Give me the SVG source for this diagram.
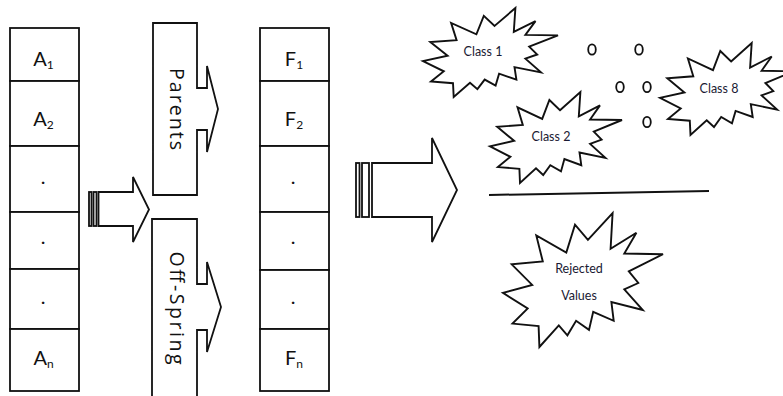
<svg xmlns="http://www.w3.org/2000/svg" width="783" height="396" viewBox="0 0 783 396">
  <style>
    .cell { fill: #fff; stroke: #111; stroke-width: 1.8; }
    .shape { fill: #fff; stroke: #111; stroke-width: 1.8; stroke-linejoin: miter; }
    .star { fill: #fff; stroke: #111; stroke-width: 1.9; stroke-linejoin: miter; }
    .lbl { font-family: Lato, "Liberation Sans", sans-serif; font-size: 20px; fill: #111; text-anchor: middle; }
    .sub { font-size: 12px; }
    .vert { font-family: "Open Sans", "Liberation Sans", sans-serif; font-size: 19.5px; fill: #111; text-anchor: middle; }
    .cls { font-family: Lato, "Liberation Sans", sans-serif; font-size: 12.5px; fill: #1a1a33; text-anchor: middle; }
    .dot { fill: #fff; stroke: #111; stroke-width: 1.8; }
  </style>
  <rect width="783" height="396" fill="#fff"/>

  <!-- input column A -->
  <g id="a1"><rect class="cell" x="10" y="28" width="69" height="53"/><text class="lbl" x="43.5" y="66">A<tspan class="sub" dy="3">1</tspan></text></g>
  <g id="a2"><rect class="cell" x="10" y="81" width="69" height="65"/><text class="lbl" x="43.5" y="126">A<tspan class="sub" dy="3">2</tspan></text></g>
  <g id="a3"><rect class="cell" x="10" y="146" width="69" height="66"/><text class="lbl" x="43" y="184">.</text></g>
  <g id="a4"><rect class="cell" x="10" y="212" width="69" height="57"/><text class="lbl" x="43" y="244">.</text></g>
  <g id="a5"><rect class="cell" x="10" y="269" width="69" height="60"/><text class="lbl" x="43" y="304">.</text></g>
  <g id="an"><rect class="cell" x="10" y="329" width="69" height="62"/><text class="lbl" x="43.5" y="365">A<tspan class="sub" dy="3">n</tspan></text></g>

  <!-- output column F -->
  <g id="f1"><rect class="cell" x="260" y="28" width="69" height="53"/><text class="lbl" x="294" y="66">F<tspan class="sub" dy="3">1</tspan></text></g>
  <g id="f2"><rect class="cell" x="260" y="81" width="69" height="65"/><text class="lbl" x="294" y="126">F<tspan class="sub" dy="3">2</tspan></text></g>
  <g id="f3"><rect class="cell" x="260" y="146" width="69" height="66"/><text class="lbl" x="293" y="184">.</text></g>
  <g id="f4"><rect class="cell" x="260" y="212" width="69" height="58"/><text class="lbl" x="293" y="244">.</text></g>
  <g id="f5"><rect class="cell" x="260" y="270" width="69" height="59"/><text class="lbl" x="293" y="304">.</text></g>
  <g id="fn"><rect class="cell" x="260" y="329" width="69" height="62"/><text class="lbl" x="294" y="365">F<tspan class="sub" dy="3">n</tspan></text></g>

  <!-- callout arrows -->
  <g id="parents">
    <path class="shape" d="M153,23 H197 V88 H207 V66 L218,109 L207,152 V130 H197 V195 H153 Z"/>
    <text class="vert" transform="translate(170,109) rotate(90)" textLength="82" lengthAdjust="spacing">Parents</text>
  </g>
  <g id="offspring">
    <path class="shape" d="M152,219 H197 V284 H207 V262 L221,307 L207,352 V330 H197 V399 H152 Z"/>
    <text class="vert" transform="translate(170,308) rotate(90)" textLength="113" lengthAdjust="spacing">Off-Spring</text>
  </g>

  <!-- connectors: striped block arrows and divider -->
  <g id="connectors">
    <g id="arrow-small">
      <rect class="shape" x="89" y="192" width="2.5" height="34"/>
      <rect class="shape" x="93.5" y="192" width="3" height="34"/>
      <path class="shape" d="M98.5,192 H133 V177 L149,209.5 L133,242 V226 H98.5 Z"/>
    </g>
    <g id="arrow-big">
      <rect class="shape" x="356" y="163" width="3.5" height="54"/>
      <rect class="shape" x="362" y="163" width="7" height="54"/>
      <path class="shape" d="M372,163 H432 V138 L457,190 L432,242 V217 H372 Z"/>
    </g>
    <path id="divider" d="M489,195 L709,191" stroke="#111" stroke-width="2" fill="none"/>
  </g>

  <!-- class bursts -->
  <g id="class1">
    <path class="star" d="M494.6,25.9 L515.4,8 L513.8,31.8 L535.5,21.1 L525.4,34.9 L558,35.4 L529.2,46.7 L537.2,54.5 L525.4,58.7 L541,72.4 L514.5,67.1 L516.4,79.6 L499.1,73.7 L495.6,85.6 L484.7,79.6 L477.4,89.2 L470,82.7 L453.7,97 L453,83.2 L431,81.4 L443.8,71.3 L423,61.1 L447.6,55.8 L430.3,42.1 L456.6,40.2 L451.1,22.9 L476.4,34.3 L483.8,15.8 Z"/>
    <text class="cls" x="483" y="56">Class 1</text>
  </g>
  <g id="class2">
    <path class="star" d="M560,110.3 L580.4,92 L578.8,116.3 L600,105.4 L590.1,119.5 L622,120 L593.8,131.6 L601.6,139.6 L590.1,143.9 L605.4,157.9 L579.5,152.5 L581.3,165.2 L564.4,159.1 L561,171.4 L550.3,165.2 L543.2,175 L536,168.4 L520,183 L519.4,168.8 L497.9,167.1 L510.4,156.8 L490,146.3 L514.1,140.8 L497.2,126.8 L522.8,124.9 L517.5,107.3 L542.2,118.9 L549.4,100 Z"/>
    <text class="cls" x="551" y="141">Class 2</text>
  </g>
  <g id="class8">
    <path class="star" d="M731.1,61.5 L751.7,43 L750.1,67.6 L771.7,56.5 L761.6,70.8 L794,71.3 L765.4,83 L773.3,91.1 L761.6,95.4 L777.1,109.6 L750.8,104.1 L752.7,117 L735.6,110.9 L732,123.3 L721.2,117 L714,127 L706.7,120.2 L690.5,135 L689.8,120.7 L668,118.9 L680.7,108.5 L660,97.9 L684.4,92.4 L667.3,78.2 L693.3,76.3 L687.9,58.4 L713,70.2 L720.3,51 Z"/>
    <text class="cls" x="719" y="93">Class 8</text>
  </g>
  <g id="rejected">
    <path class="star" d="M587.9,239.9 L612.6,213 L610.6,248.8 L636.4,232.7 L624.3,253.5 L663,254.2 L628.8,271.3 L638.3,283 L624.3,289.4 L642.8,310 L611.4,302 L613.7,320.8 L593.2,311.9 L589,329.9 L576.1,320.8 L567.4,335.3 L558.8,325.4 L539.4,347 L538.6,326.1 L512.5,323.6 L527.7,308.4 L503,292.9 L532.2,284.9 L511.7,264.3 L542.8,261.5 L536.3,235.5 L566.3,252.6 L575,224.7 Z"/>
    <text class="cls" x="579" y="273">Rejected</text>
    <text class="cls" x="579" y="300">Values</text>
  </g>

  <!-- ellipsis marks between classes -->
  <g id="ellipsis">
    <ellipse class="dot" cx="592" cy="49.5" rx="3.8" ry="5.2"/>
    <ellipse class="dot" cx="639" cy="49.5" rx="3.8" ry="5.2"/>
    <ellipse class="dot" cx="620" cy="87" rx="3.8" ry="5.2"/>
    <ellipse class="dot" cx="647" cy="87" rx="3.8" ry="5.2"/>
    <ellipse class="dot" cx="647" cy="122" rx="3.8" ry="5.2"/>
  </g>
</svg>
